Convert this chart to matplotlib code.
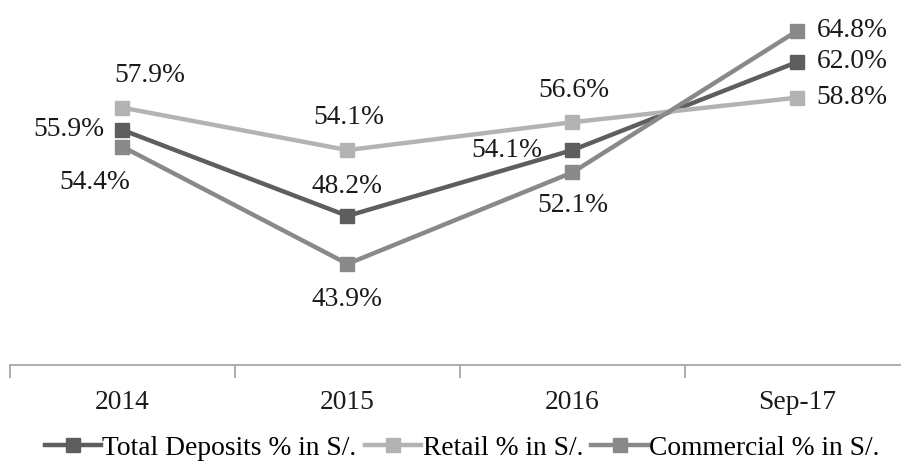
import matplotlib.pyplot as plt

plt.rcParams['font.family'] = ['Liberation Serif', 'DejaVu Serif']

periods = ["2014", "2015", "2016", "Sep-17"]
total = [55.9, 48.2, 54.1, 62.0]
retail = [57.9, 54.1, 56.6, 58.8]
commercial = [54.4, 43.9, 52.1, 64.8]

# label offsets in pixels (dx, dy) and horizontal alignment per point
total_offsets = [(-18, 0, "right"), (0, 29, "center"), (-30, 0, "right"), (19, 0, "left")]
retail_offsets = [(27, 32, "center"), (1, 33, "center"), (1, 32, "center"), (19, 0, "left")]
commercial_offsets = [(-28, -36, "center"), (0, -36, "center"), (0, -33, "center"), (19, 0, "left")]

series = [
    ("Total Deposits % in S/.", total, "#5e5e5e", total_offsets),
    ("Retail % in S/.", retail, "#b3b3b3", retail_offsets),
    ("Commercial % in S/.", commercial, "#898989", commercial_offsets),
]

FS = 19.8

fig = plt.figure(figsize=(9.01, 4.67), dpi=100)
ax = fig.add_axes([10 / 901, 102 / 467, 900 / 901, 365 / 467])
x = range(len(periods))

for name, vals, color, offs in series:
    ax.plot(x, vals, color=color, lw=3.2, marker="s", ms=10, label=name)
    for xi, v, (dx, dy, ha) in zip(x, vals, offs):
        ax.annotate(f"{v:.1f}%", (xi, v), xytext=(dx, dy), textcoords="offset pixels",
                    ha=ha, va="center", fontsize=FS, color="#1a1a1a")

ax.set_xlim(-0.5, 3.5)
ax.set_ylim(34.84, 67.55)
ax.set_yticks([])
for side in ["top", "right", "left"]:
    ax.spines[side].set_visible(False)
ax.spines["bottom"].set_color("#a0a0a0")
ax.spines["bottom"].set_linewidth(1.2)

# category labels between tick marks placed at the boundaries
ax.set_xticks([-0.5, 0.5, 1.5, 2.5, 3.5])
ax.set_xticklabels([])
ax.set_xticks(list(x), minor=True)
ax.set_xticklabels(periods, minor=True, fontsize=FS, color="#1a1a1a")
ax.tick_params(axis="x", which="major", length=9, width=1.2, color="#a0a0a0")
ax.tick_params(axis="x", which="minor", length=0, pad=18)

fig.legend(loc="center", bbox_to_anchor=(0.513, 1 - 448 / 467), ncol=3, frameon=False,
           fontsize=FS, handlelength=2.05, handletextpad=0.05, columnspacing=0.3)

fig.savefig("out.png", dpi=100)
